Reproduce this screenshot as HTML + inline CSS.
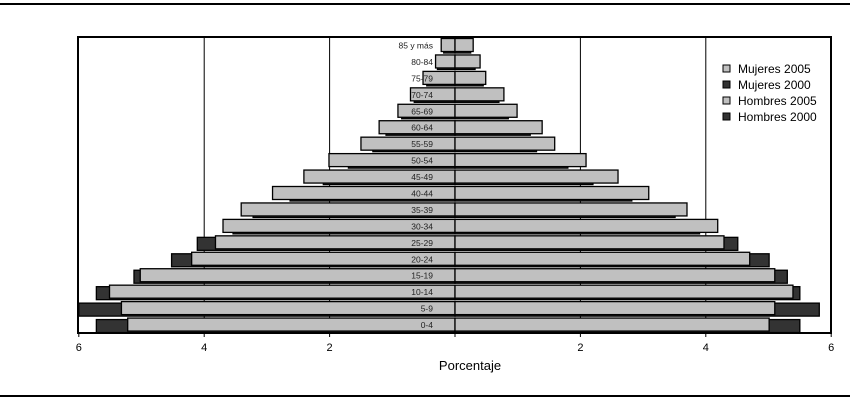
<!DOCTYPE html>
<html><head><meta charset="utf-8">
<style>
body{margin:0;background:#fff;}
svg{display:block;font-family:"Liberation Sans",sans-serif;}
</style></head>
<body>
<svg id="chart" width="850" height="400" viewBox="0 0 850 400" xmlns="http://www.w3.org/2000/svg">
<line x1="0" y1="4" x2="850" y2="4" stroke="#000" stroke-width="2"/>
<line x1="0" y1="396" x2="850" y2="396" stroke="#000" stroke-width="2"/>
<g id="grid"></g>
<g id="bars"></g>
<g id="labels"></g>
<rect x="78" y="37" width="753" height="296" fill="none" stroke="#000" stroke-width="2"/>
<g id="axis"></g>
<text x="470" y="370" font-size="13" text-anchor="middle">Porcentaje</text>
<g font-size="12">
  <rect x="723" y="65" width="7" height="7" fill="#c0c0c0" stroke="#000"/>
  <text x="738" y="73">Mujeres 2005</text>
  <rect x="723" y="81" width="7" height="7" fill="#333" stroke="#000"/>
  <text x="738" y="89">Mujeres 2000</text>
  <rect x="723" y="97" width="7" height="7" fill="#c0c0c0" stroke="#000"/>
  <text x="738" y="105">Hombres 2005</text>
  <rect x="723" y="113" width="7" height="7" fill="#333" stroke="#000"/>
  <text x="738" y="121">Hombres 2000</text>
</g>
</svg>
<script>
const categories = ["0-4","5-9","10-14","15-19","20-24","25-29","30-34","35-39","40-44","45-49","50-54","55-59","60-64","65-69","70-74","75-79","80-84","85 y más"];
const hombres2005 = [5.22,5.32,5.51,5.02,4.20,3.82,3.70,3.41,2.91,2.41,2.01,1.50,1.21,0.91,0.71,0.51,0.31,0.22];
const hombres2000 = [5.72,6.00,5.72,5.12,4.52,4.11,3.54,3.22,2.63,2.10,1.70,1.31,1.10,0.85,0.65,0.45,0.28,0.18];
const mujeres2005 = [5.01,5.10,5.39,5.10,4.70,4.29,4.19,3.70,3.09,2.60,2.09,1.59,1.39,0.99,0.78,0.49,0.40,0.29];
const mujeres2000 = [5.50,5.81,5.50,5.30,5.01,4.51,3.90,3.51,2.82,2.20,1.80,1.30,1.20,0.85,0.70,0.45,0.32,0.25];
const ticks = [6,4,2,0,2,4,6];
const tickSigned = [-6,-4,-2,0,2,4,6];

const NS="http://www.w3.org/2000/svg";
const cx=455, scale=62.7, yTop=37, yBottom=333;
const band=(yBottom-yTop)/categories.length;
function xs(v){return cx+v*scale;}
function yRow(i){return yBottom-(i+1)*band;}
function mk(tag,attrs,parent){const e=document.createElementNS(NS,tag);for(const k in attrs)e.setAttribute(k,attrs[k]);parent.appendChild(e);return e;}

const grid=document.getElementById('grid');
tickSigned.forEach((t,i)=>{
  if(t===0||Math.abs(t)===6)return;
  const l=mk('line',{x1:xs(t),y1:yTop,x2:xs(t),y2:yBottom,stroke:'#000','stroke-width':1},grid);
  
  
});

const bars=document.getElementById('bars');
function bar(v0,v1,y,h,fill,name){
  const x=Math.min(xs(v0),xs(v1)), w=Math.abs(xs(v1)-xs(v0));
  const r=mk('rect',{x:x,y:y,width:w,height:h,fill:fill,stroke:'#000','stroke-width':1.3},bars);
  
  
}
categories.forEach((c,i)=>{
  const y=yRow(i);
  bar(0,-hombres2000[i],y+3,13,'#333','bar-hombres-2000-'+c);
  bar(0,mujeres2000[i],y+3,13,'#333','bar-mujeres-2000-'+c);
  bar(0,-hombres2005[i],y+1.5,13,'#c0c0c0','bar-hombres-2005-'+c);
  bar(0,mujeres2005[i],y+1.5,13,'#c0c0c0','bar-mujeres-2005-'+c);
});
const lab=document.getElementById('labels');
categories.forEach((c,i)=>{
  const t=mk('text',{x:433,y:yRow(i)+11.5,'font-size':8.5,'text-anchor':'end',fill:'#222'},lab);
  t.textContent=c;
  
  
});
const axis=document.getElementById('axis');
mk('line',{x1:78,y1:yBottom,x2:831,y2:yBottom,stroke:'#000','stroke-width':1.5},axis);
tickSigned.forEach((t,i)=>{
  const tk=mk('line',{x1:xs(t),y1:yBottom,x2:xs(t),y2:yBottom+4,stroke:'#000'},axis);
  
  
  if(t===0)return;
  const tx=mk('text',{x:xs(t),y:351,'font-size':11,'text-anchor':'middle'},axis);
  tx.textContent=ticks[i];
  
  
});
</script>
</body></html>
